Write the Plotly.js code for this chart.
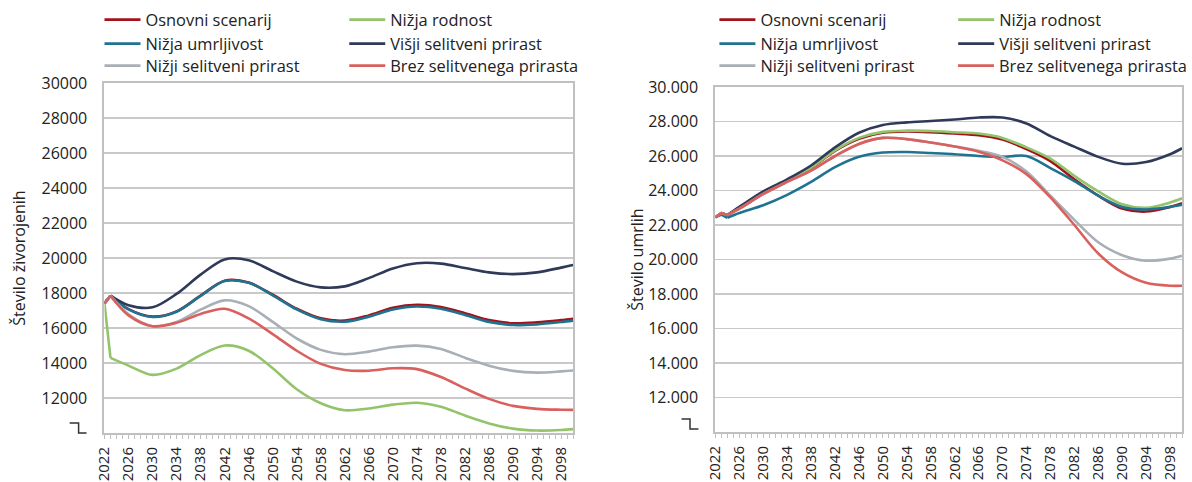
<!DOCTYPE html>
<html><head><meta charset="utf-8">
<script src="https://cdn.plot.ly/plotly-3.0.1.min.js"></script>
<style>html,body{margin:0;padding:0;background:#fff;} #chart{width:1192px;height:482px;}</style>
</head><body><div id="chart"></div>
<script>
// ---------- DATA ----------
const seriesNames = ["Osnovni scenarij", "Nižja rodnost", "Nižja umrljivost", "Višji selitveni prirast", "Nižji selitveni prirast", "Brez selitvenega prirasta"];

// Births (Število živorojenih)
const birthYears = [2022, 2023, 2026, 2030, 2034, 2038, 2042, 2046, 2050, 2054, 2058, 2062, 2066, 2070, 2074, 2078, 2082, 2086, 2090, 2094, 2098, 2100];
const birthsOsnovni = [17410, 17846, 17080, 16650, 16950, 17850, 18700, 18600, 17900, 17100, 16550, 16420, 16720, 17150, 17320, 17200, 16850, 16450, 16270, 16320, 16450, 16530];
const birthsNizjaRodnost = [17410, 14290, 13850, 13320, 13680, 14450, 15000, 14700, 13700, 12500, 11700, 11300, 11400, 11620, 11730, 11500, 11000, 10550, 10250, 10140, 10170, 10220];
const birthsNizjaUmrljivost = [17410, 17846, 17060, 16630, 16930, 17830, 18680, 18580, 17870, 17060, 16500, 16360, 16650, 17060, 17230, 17100, 16750, 16350, 16170, 16210, 16340, 16420];
const birthsVisjiSelitveni = [17410, 17846, 17300, 17180, 17950, 19050, 19920, 19870, 19250, 18650, 18320, 18380, 18850, 19400, 19700, 19680, 19430, 19180, 19080, 19180, 19450, 19600];
const birthsNizjiSelitveni = [17410, 17846, 16780, 16100, 16350, 17050, 17580, 17250, 16350, 15400, 14750, 14500, 14650, 14900, 14990, 14800, 14300, 13850, 13550, 13450, 13520, 13570];
const birthsBrezSelitvenega = [17410, 17846, 16720, 16100, 16300, 16800, 17100, 16550, 15650, 14700, 13950, 13600, 13560, 13700, 13650, 13200, 12550, 11950, 11550, 11380, 11330, 11320];

// Deaths (Število umrlih)
const deathYears = [2022, 2023, 2024, 2026, 2030, 2034, 2038, 2042, 2046, 2050, 2054, 2058, 2062, 2066, 2070, 2074, 2078, 2082, 2086, 2090, 2094, 2098, 2100];
const deathsOsnovni = [22450, 22680, 22580, 22950, 23800, 24550, 25300, 26300, 27000, 27350, 27420, 27380, 27300, 27200, 26950, 26400, 25700, 24650, 23700, 22950, 22780, 23050, 23260];
const deathsNizjaRodnost = [22450, 22680, 22580, 22980, 23830, 24580, 25330, 26330, 27050, 27400, 27470, 27450, 27380, 27300, 27050, 26500, 25850, 24850, 23950, 23200, 23000, 23300, 23550];
const deathsNizjaUmrljivost = [22450, 22600, 22420, 22700, 23150, 23750, 24500, 25350, 25950, 26200, 26230, 26170, 26100, 26000, 25950, 26000, 25300, 24550, 23700, 23050, 22900, 23050, 23170];
const deathsVisjiSelitveni = [22450, 22680, 22580, 23050, 23950, 24650, 25450, 26500, 27350, 27800, 27950, 28030, 28120, 28230, 28230, 27880, 27150, 26540, 25950, 25550, 25650, 26100, 26450];
const deathsNizjiSelitveni = [22450, 22680, 22580, 22950, 23800, 24500, 25150, 26000, 26700, 27050, 26980, 26780, 26550, 26300, 25950, 25100, 23700, 22300, 21000, 20250, 19930, 20050, 20220];
const deathsBrezSelitvenega = [22450, 22680, 22580, 22950, 23800, 24500, 25150, 26000, 26700, 27050, 26980, 26780, 26550, 26250, 25750, 24950, 23600, 22000, 20350, 19250, 18650, 18480, 18480];

const yTickValues = [12000, 14000, 16000, 18000, 20000, 22000, 24000, 26000, 28000, 30000];
const leftTitle = "Število živorojenih";
const rightTitle = "Število umrlih";

// ---------- STYLE ----------
const colors = ["#a3121b", "#93c46c", "#1f7391", "#2f3a5a", "#a9afb6", "#d9605d"];
const W = 1192, H = 482;
const px = x => x / W, py = y => 1 - y / H;
const FONT = "Open Sans, sans-serif";
const GRID = "#c9c9c9", AX = "#c0c0c0";
const LW = 2.6;

const birthSeries = [birthsOsnovni, birthsNizjaRodnost, birthsNizjaUmrljivost, birthsVisjiSelitveni, birthsNizjiSelitveni, birthsBrezSelitvenega];
const deathSeries = [deathsOsnovni, deathsNizjaRodnost, deathsNizjaUmrljivost, deathsVisjiSelitveni, deathsNizjiSelitveni, deathsBrezSelitvenega];

// legend placement: line start x per column, row centre y
const legLeftX = [105, 351], legRightX = [723, 963], rowsY = [20, 44, 66];

const traces = [];
function addSeries(years, vals, i, xa, ya, legendId, kinkPts) {
  // first years: straight segments with sharp kinks
  traces.push({
    type: "scatter", mode: "lines", x: years.slice(0, kinkPts), y: vals.slice(0, kinkPts),
    xaxis: xa, yaxis: ya, showlegend: false, legend: legendId,
    line: {color: colors[i], width: LW}, hoverinfo: "skip"
  });
  // rest: smoothed line
  traces.push({
    type: "scatter", mode: "lines", x: years.slice(kinkPts - 1), y: vals.slice(kinkPts - 1),
    name: seriesNames[i], xaxis: xa, yaxis: ya, legend: legendId,
    line: {color: colors[i], width: LW, shape: "spline", smoothing: 0.9}, hoverinfo: "skip"
  });
}
birthSeries.forEach((v, i) => addSeries(birthYears, v, i, "x", "y", i === 0 ? "legend" : "legend" + (i + 1), 2));
deathSeries.forEach((v, i) => addSeries(deathYears, v, i, "x2", "y2", "legend" + (i + 7), 3));

function xAxis(domain, anchor) {
  return {
    domain: domain, anchor: anchor, range: [2022, 2100],
    tick0: 2022, dtick: 4, tickangle: -90,
    ticks: "outside", ticklen: 4, tickwidth: 1, tickcolor: AX,
    minor: {dtick: 1, ticks: "outside", ticklen: 4, tickwidth: 1, tickcolor: AX, showgrid: false},
    showline: true, linecolor: AX, linewidth: 2, mirror: true,
    showgrid: false, zeroline: false, fixedrange: true,
    tickfont: {family: FONT, size: 15, color: "#222"},
    ticklabelstandoff: 2
  };
}
function yAxis(domain, anchor, fmt, title, standoff) {
  return {
    domain: domain, anchor: anchor, range: [10000, 30000],
    tickmode: "array", tickvals: yTickValues, tickformat: fmt,
    showgrid: true, gridcolor: GRID, gridwidth: 1.5,
    showline: true, linecolor: AX, linewidth: 2, mirror: true,
    ticks: "", zeroline: false, fixedrange: true,
    tickfont: {family: FONT, size: 16, color: "#222"},
    ticklabelstandoff: 12,
    title: {text: title, font: {family: FONT, size: 16, color: "#222"}, standoff: standoff}
  };
}
function leg(lineX, rowY) {
  return {
    orientation: "h", x: px(lineX - 5), y: py(rowY), xanchor: "left", yanchor: "middle",
    font: {family: FONT, size: 16.4, color: "#222"}, bgcolor: "rgba(0,0,0,0)",
    borderwidth: 0, itemwidth: 36,
    itemclick: false, itemdoubleclick: false
  };
}

const layout = {
  width: W, height: H,
  margin: {l: 0, r: 0, t: 0, b: 0},
  paper_bgcolor: "#fff", plot_bgcolor: "#fff",
  separators: ",.",
  showlegend: true,
  xaxis: xAxis([px(105), px(576)], "y"),
  yaxis: yAxis([py(433), py(83)], "x", "d", leftTitle, 12),
  xaxis2: xAxis([px(719), px(1188)], "y2"),
  yaxis2: yAxis([py(432), py(87)], "x2", ",d", rightTitle, 0),
  shapes: [
    {type: "path", xref: "paper", yref: "paper",
     path: `M${px(70)},${py(423)} L${px(79)},${py(423)} L${px(79)},${py(433)} L${px(87)},${py(433)}`,
     line: {color: "#333", width: 1.5}},
    {type: "path", xref: "paper", yref: "paper",
     path: `M${px(685)},${py(419)} L${px(693.5)},${py(419)} L${px(693.5)},${py(429)} L${px(702)},${py(429)}`,
     line: {color: "#333", width: 1.5}}
  ]
};
for (let i = 0; i < 6; i++) {
  const col = i % 2, row = Math.floor(i / 2);
  layout[i === 0 ? "legend" : "legend" + (i + 1)] = leg(legLeftX[col], rowsY[row]);
  layout["legend" + (i + 7)] = leg(legRightX[col], rowsY[row]);
}

Plotly.newPlot("chart", traces, layout, {displayModeBar: false, staticPlot: true});
</script>
</body></html>
